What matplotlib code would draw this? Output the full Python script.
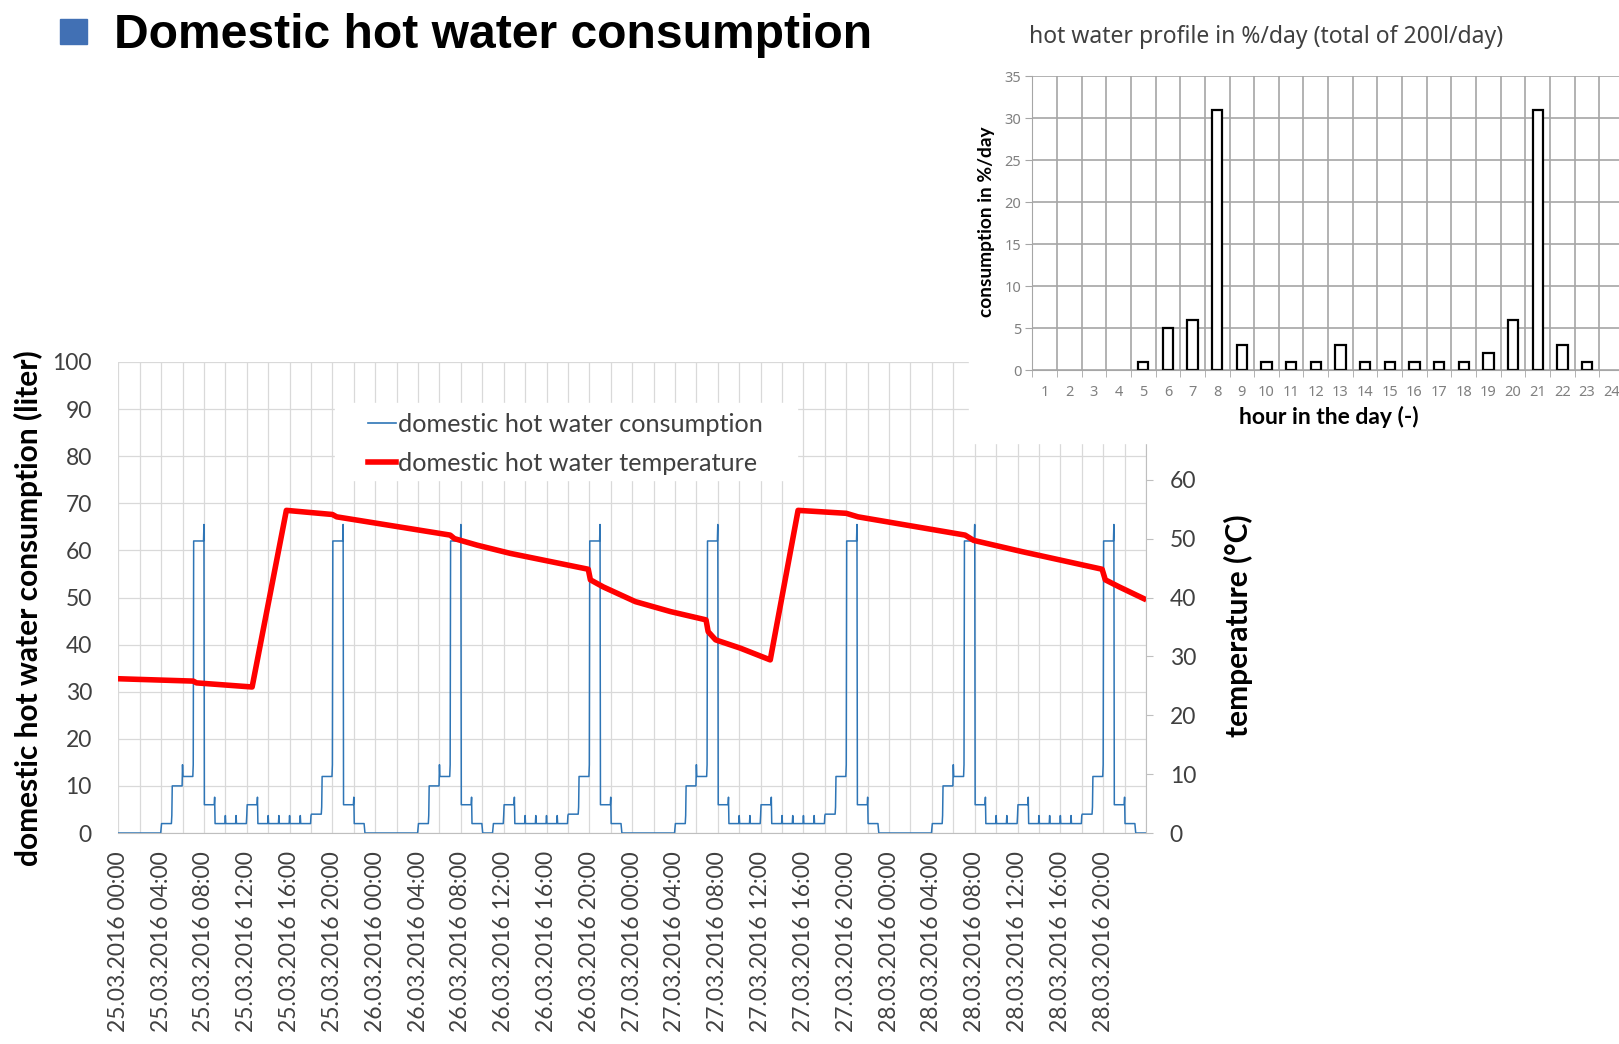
import datetime as dt
import matplotlib
matplotlib.use('Agg')
import matplotlib.pyplot as plt
from matplotlib.patches import Rectangle
from matplotlib.lines import Line2D

W, H = 1619, 1044

# hot water consumption in liter, one level per hour (25.03.2016 00:00 ... 28.03.2016 23:00)
cons_day1 = [0, 0, 0, 0, 2, 10, 12, 62, 6, 2, 2, 2, 6, 2, 2, 2, 2, 2, 4, 12, 62, 6, 2, 0]
cons_day2 = [0, 0, 0, 0, 2, 10, 12, 62, 6, 2, 0, 2, 6, 2, 2, 2, 2, 2, 4, 12, 62, 6, 2, 0]
cons_day3 = [0, 0, 0, 0, 2, 10, 12, 62, 6, 2, 2, 2, 6, 2, 2, 2, 2, 2, 4, 12, 62, 6, 2, 0]
cons_day4 = [0, 0, 0, 0, 2, 10, 12, 62, 6, 2, 2, 2, 6, 2, 2, 2, 2, 2, 4, 12, 62, 6, 2, 0]
# short peak at the end of an hour (by the level of that hour)
peak_top = {2: 3.7, 4: 5.5, 6: 7.6, 10: 14.5, 12: 14.5, 62: 65.5}

# hot water temperature, hours since 25.03.2016 00:00 / degC
temp_hours = [0, 7.0, 7.3, 12.5, 15.7, 20.0, 20.4, 31.0, 31.4, 33.5, 36.6, 43.9, 44.1,
              45.3, 48.3, 51.6, 54.9, 55.1, 55.8, 58.1, 60.9, 63.5, 68.0, 69.1, 79.1,
              79.9, 84.4, 91.9, 92.2, 93.5, 95.8]
temp_values = [26.2, 25.8, 25.5, 24.8, 54.8, 54.1, 53.7, 50.6, 50.0, 48.9, 47.5, 44.8, 43.0,
               41.8, 39.3, 37.6, 36.2, 34.2, 32.8, 31.4, 29.4, 54.8, 54.3, 53.7, 50.6,
               49.7, 47.8, 44.8, 43.0, 41.8, 39.8]

# inset: hot water profile in %/day
profile_hours = list(range(1, 25))
profile_share = [0, 0, 0, 0, 1, 5, 6, 31, 3, 1, 1, 1, 3, 1, 1, 1, 1, 1, 2, 6, 31, 3, 1, 0]

start = dt.datetime(2016, 3, 25)
label_hours = list(range(0, 96, 4))
tick_labels = [(start + dt.timedelta(hours=h)).strftime('%d.%m.%Y %H:%M') for h in label_hours]


def fx(px):
    return px / W


def fy(py):
    return 1 - py / H


plt.rcParams['font.family'] = ['Lato', 'DejaVu Sans']
fig = plt.figure(figsize=(W / 100, H / 100), dpi=100)

# title
fig.add_artist(Rectangle((fx(60), fy(44)), 27 / W, 25 / H, color='#4170B4', transform=fig.transFigure))
fig.text(fx(114), fy(47.5), 'Domestic hot water consumption', fontsize=34.6, fontweight='bold',
         family='Liberation Sans', va='baseline', ha='left')

# main chart
ax = fig.add_axes([fx(118.3), fy(833), (1146 - 118.3) / W, (833 - 362) / H])
levels = cons_day1 + cons_day2 + cons_day3 + cons_day4
cx, cy = [], []
for i, lvl in enumerate(levels):
    nxt = levels[i + 1] if i + 1 < len(levels) else 0
    cx += [i + 0.04, i + 0.96]
    cy += [lvl, lvl]
    if lvl > 0 and nxt > 0:
        cx.append(i + 1.0)
        cy.append(peak_top[lvl])
ax.plot(cx, cy, color='#2E75B6', lw=1.1)
ax.set_xlim(0, 96)
ax.set_ylim(0, 100)
ax.set_yticks(range(0, 101, 10))
ax.set_xticks(label_hours)
ax.set_xticks(range(0, 97, 2), minor=True)
ax.set_xticklabels(tick_labels, rotation=90, ha='center', va='top')
ax.grid(True, which='both', color='#D9D9D9', lw=0.9)
ax.tick_params(axis='x', which='both', length=0, pad=13, labelsize=16.5, labelcolor='#404040')
ax.tick_params(axis='y', length=0, pad=19, labelsize=16.5, labelcolor='#404040')
for s in ['top', 'left', 'right']:
    ax.spines[s].set_visible(False)
ax.spines['bottom'].set_color('#BFBFBF')

ax2 = ax.twinx()
ax2.plot(temp_hours, temp_values, color='#FF0000', lw=4, solid_joinstyle='round')
ax2.set_ylim(0, 80)
ax2.set_yticks(range(0, 81, 10))
ax2.tick_params(axis='y', length=5, color='#BFBFBF', pad=12, labelsize=16.5, labelcolor='#404040')
for s in ['top', 'left', 'bottom']:
    ax2.spines[s].set_visible(False)
ax2.spines['right'].set_color('#BFBFBF')

fig.text(fx(28.5), fy(608), 'domestic hot water consumption (liter)', rotation=90, fontsize=21.5,
         fontweight='bold', ha='center', va='center')
fig.text(fx(1238), fy(626), 'temperature (°C)', rotation=90, fontsize=21.5,
         fontweight='bold', ha='center', va='center')

# legend
fig.add_artist(Rectangle((fx(335), fy(480)), (797 - 335) / W, (480 - 403) / H, color='white',
                         transform=fig.transFigure, zorder=2))
handles = [Line2D([], [], color='#2E75B6', lw=1.2), Line2D([], [], color='#FF0000', lw=4)]
fig.legend(handles, ['domestic hot water consumption', 'domestic hot water temperature'],
           loc='center left', bbox_to_anchor=(fx(368), fy(444)), frameon=False, fontsize=18.2,
           handlelength=1.1, handletextpad=0.1, borderpad=0, borderaxespad=0, labelspacing=0.65,
           labelcolor='#404040')

# inset chart
fig.add_artist(Rectangle((fx(969), fy(443)), (W - 969) / W, 443 / H, color='white',
                         transform=fig.transFigure, zorder=2))
axi = fig.add_axes([fx(1032.3), fy(370), (1624 - 1032.3) / W, (370 - 76) / H], zorder=3)
bar_hours = [h for h, v in zip(profile_hours, profile_share) if v > 0]
bar_share = [v for v in profile_share if v > 0]
axi.bar(bar_hours, bar_share, width=0.42, color='white', edgecolor='black', lw=1.6)
axi.set_axisbelow(True)
axi.set_xlim(0.5, 24.5)
axi.set_ylim(0, 35)
axi.set_yticks(range(0, 36, 5))
axi.set_xticks(profile_hours)
axi.set_xticks([h + 0.5 for h in range(25)], minor=True)
axi.grid(True, axis='y', color='#A6A6A6', lw=1.2)
axi.grid(True, axis='x', which='minor', color='#A6A6A6', lw=1.2)
axi.tick_params(axis='x', which='major', length=0, pad=11, labelsize=10.5, labelcolor='#808080')
axi.tick_params(axis='x', which='minor', length=5, color='#A6A6A6')
axi.tick_params(axis='y', length=5, color='#A6A6A6', pad=3, labelsize=10.5, labelcolor='#808080')
for s in ['top', 'right']:
    axi.spines[s].set_visible(False)
for s in ['left', 'bottom']:
    axi.spines[s].set_color('#A6A6A6')
for t in axi.get_xticklabels() + axi.get_yticklabels():
    t.set_family('Noto Sans')

fig.text(fx(1029), fy(37), 'hot water profile in %/day (total of 200l/day)', fontsize=16.5,
         family='Noto Sans', color='#404040', ha='left', va='center', zorder=4)
fig.text(fx(986), fy(222), 'consumption in %/day', rotation=90, fontsize=13.8,
         fontweight='bold', ha='center', va='center', zorder=4)
fig.text(fx(1329), fy(417), 'hour in the day (-)', fontsize=16.5,
         fontweight='bold', ha='center', va='center', zorder=4)

fig.savefig('out.png', dpi=100)
